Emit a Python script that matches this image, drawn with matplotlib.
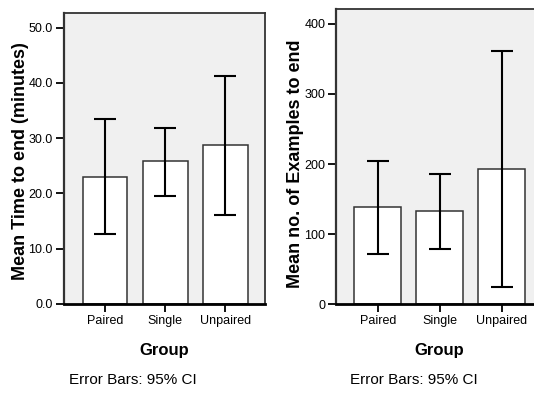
import matplotlib
matplotlib.use("Agg")
import matplotlib.pyplot as plt
import numpy as np

plt.rcParams['font.family'] = ['Liberation Sans', 'DejaVu Sans']

groups = ["Paired", "Single", "Unpaired"]
time_mean = [22.9, 25.8, 28.7]
time_low = [12.6, 19.6, 16.1]
time_high = [33.4, 31.9, 41.3]
time_ticks = [0, 10, 20, 30, 40, 50]
time_ticklabels = ["0.0", "10.0", "20.0", "30.0", "40.0", "50.0"]

ex_mean = [138.4, 133.1, 193.0]
ex_low = [71.8, 78.9, 24.7]
ex_high = [204.4, 186.3, 361.8]
ex_ticks = [0, 100, 200, 300, 400]
ex_ticklabels = ["0", "100", "200", "300", "400"]

W, H = 534, 393
fig = plt.figure(figsize=(W / 100, H / 100), dpi=100)

def panel(rect, means, lows, highs, ticks, ticklabels, ylim, xlim, width, ylabel, ylabel_xy):
    ax = fig.add_axes(rect)
    x = np.arange(len(groups))
    ax.set_facecolor('#f0f0f0')
    ax.bar(x, means, width=width, color='white', edgecolor='#333333', linewidth=1.1, zorder=2)
    m = np.array(means)
    yerr = [m - np.array(lows), np.array(highs) - m]
    ax.errorbar(x, means, yerr=yerr, fmt='none', ecolor='black', elinewidth=1.5,
                capsize=8, capthick=1.5, zorder=3)
    ax.set_xlim(*xlim)
    ax.set_ylim(*ylim)
    ax.set_yticks(ticks)
    ax.set_yticklabels(ticklabels, fontsize=9)
    ax.set_xticks(x)
    ax.set_xticklabels(groups, fontsize=9)
    ax.tick_params(axis='both', direction='out', length=6, width=1.3, color='black', pad=2)
    for s in ['top', 'right']:
        ax.spines[s].set_linewidth(1.3)
        ax.spines[s].set_color('#333333')
    ax.spines['left'].set_linewidth(1.6)
    ax.spines['left'].set_color('#333333')
    ax.spines['bottom'].set_linewidth(2.0)
    ax.spines['bottom'].set_color('black')
    fig.text(ylabel_xy[0] / W, 1 - ylabel_xy[1] / H, ylabel, fontsize=13, fontweight='bold',
             rotation=90, rotation_mode='anchor', ha='center', va='baseline')
    return ax

ax1 = panel([64 / W, (H - 304) / H, (265 - 64) / W, (304 - 12.7) / H],
            time_mean, time_low, time_high, time_ticks, time_ticklabels,
            (0, 52.7), (-0.683, 2.66), 0.745, "Mean Time to end (minutes)", (25, 161))
ax2 = panel([336.3 / W, (H - 304.3) / H, (543 - 336.3) / W, (304.3 - 9.3) / H],
            ex_mean, ex_low, ex_high, ex_ticks, ex_ticklabels,
            (0, 420.8), (-0.67, 2.67), 0.758, "Mean no. of Examples to end", (300, 164))

for cx, ex in [(164, 133), (439, 414)]:
    fig.text(cx / W, 1 - 350 / H, "Group", fontsize=12, fontweight='bold', ha='center', va='center')
    fig.text(ex / W, 1 - 380 / H, "Error Bars: 95% CI", fontsize=11, ha='center', va='center')

fig.savefig("out.png", dpi=100)
